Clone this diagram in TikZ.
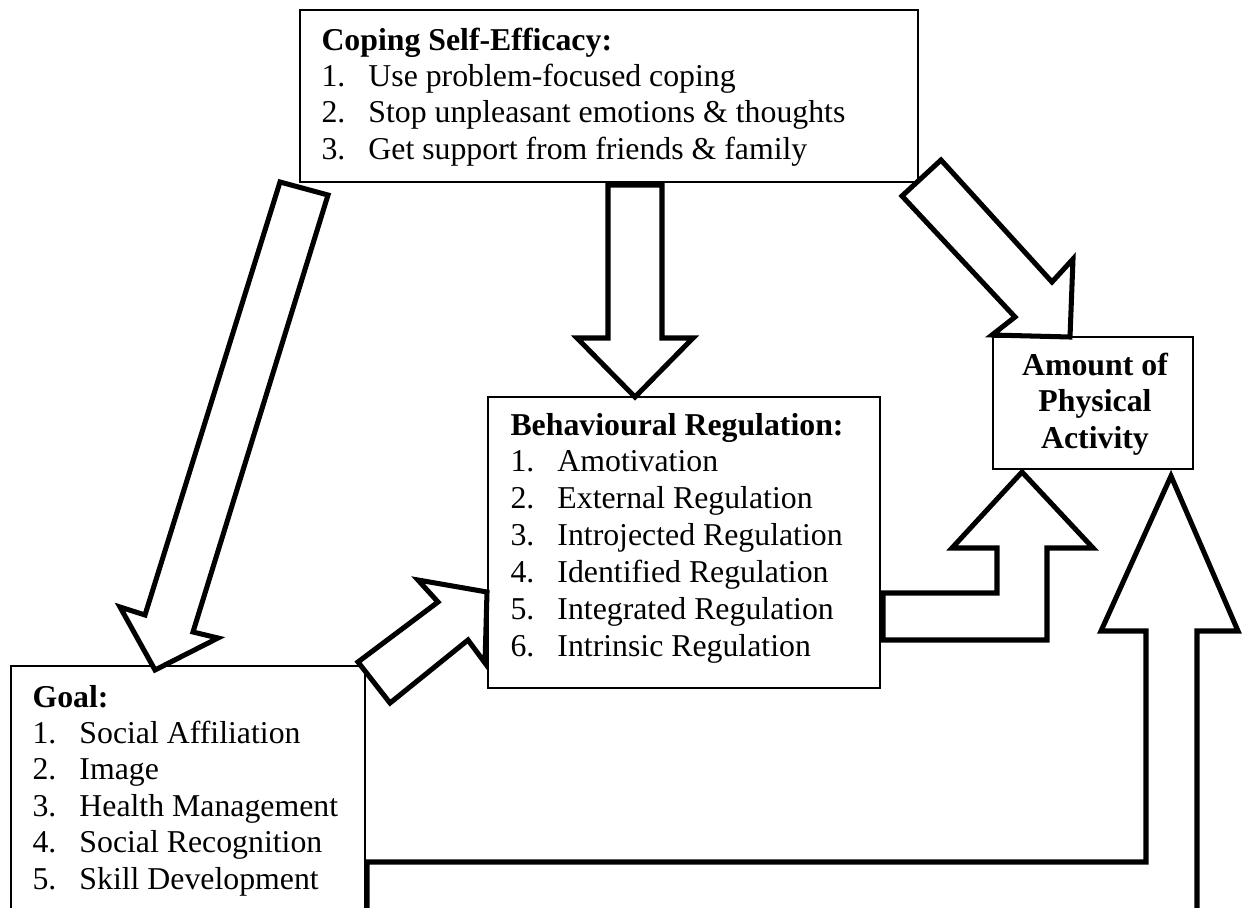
\documentclass[tikz,border=0pt]{standalone}
\usepackage{fontspec}
\setmainfont{Liberation Serif}
\usetikzlibrary{fit}
\newcommand\itm[2]{\hbox{\makebox[17.7pt][l]{#1}#2}}
\newcommand\ctr[1]{\hbox to 80pt{\hss#1\hss}}
\begin{document}
\begin{tikzpicture}[x=0.3774pt,y=-0.3774pt,
  box/.style={draw, line width=0.75pt, inner sep=0pt, fill=white},
  blockarrow/.style={draw, line width=1.9pt, fill=white, line join=miter, miter limit=10},
  txt/.style={anchor=base west, inner sep=0pt, font=\fontsize{12}{13.8}\selectfont}]
\useasboundingbox[fill=white] (0,0) rectangle (1243,907);
\clip (0,0) rectangle (1243,907);

% boxes
\node[box, fit={(300,10) (918,182)}] (cse) {};
\node[box, fit={(488,397) (880,688)}] (br) {};
\node[box, fit={(11,666) (365,940)}] (goal) {};
\node[box, fit={(993,337) (1193,469)}] (pa) {};

% texts
\node[txt] (cseT) at (321,50) {\vtop{\baselineskip=13.75pt
  \hbox{\bfseries Coping Self-Efficacy:}
  \itm{1.}{Use problem-focused coping}
  \itm{2.}{Stop unpleasant emotions \& thoughts}
  \itm{3.}{Get support from friends \& family}}};

\node[txt] (brT) at (510,435) {\vtop{\baselineskip=13.95pt
  \hbox{\bfseries Behavioural Regulation:}
  \itm{1.}{Amotivation}
  \itm{2.}{External Regulation}
  \itm{3.}{Introjected Regulation}
  \itm{4.}{Identified Regulation}
  \itm{5.}{Integrated Regulation}
  \itm{6.}{Intrinsic Regulation}}};

\node[txt] (goalT) at (32,707) {\vtop{\baselineskip=13.75pt
  \hbox{\bfseries Goal:}
  \itm{1.}{Social Affiliation}
  \itm{2.}{Image}
  \itm{3.}{Health Management}
  \itm{4.}{Social Recognition}
  \itm{5.}{Skill Development}}};

\node[txt, anchor=base] (paT) at (1095,375) {\vtop{\baselineskip=13.8pt\bfseries
  \ctr{Amount of}
  \ctr{Physical}
  \ctr{Activity}}};

% block arrows
% coping -> behavioural regulation
\draw[blockarrow] (608,185) -- (662,185) -- (662,338) -- (693,338) -- (635,397) -- (577,338) -- (608,338) -- cycle;
% coping -> physical activity
\draw[blockarrow] (902,196) -- (941,160) -- (1052,282) -- (1073,259) -- (1070,337) -- (992,335) -- (1015,317) -- cycle;
% coping -> goal
\draw[blockarrow] (280,182) -- (328,195) -- (193,632) -- (218,638) -- (155,670) -- (120,607) -- (145,615) -- cycle;
% goal -> behavioural regulation
\draw[blockarrow] (358,662) -- (438,602) -- (418,580) -- (487,592) -- (485,663) -- (468,640) -- (390,703) -- cycle;
% behavioural regulation -> physical activity
\draw[blockarrow] (883,593) -- (997,593) -- (997,548) -- (952,548) -- (1022,472) -- (1093,548) -- (1047,548) -- (1047,640) -- (883,640) -- cycle;
% goal -> physical activity
\draw[blockarrow] (367,930) -- (367,862) -- (1146,862) -- (1146,631) -- (1101,631) -- (1171,476) -- (1238,631) -- (1197,631) -- (1197,930);
\end{tikzpicture}
\end{document}
